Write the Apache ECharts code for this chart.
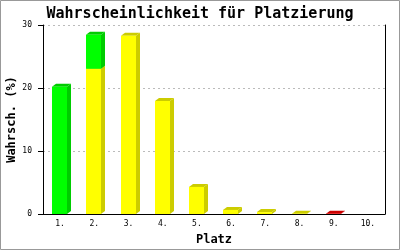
<!DOCTYPE html>
<html><head><meta charset="utf-8">
<script src="https://cdn.jsdelivr.net/npm/echarts@6/dist/echarts.min.js"></script>
<style>html,body{margin:0;padding:0;background:#fff}#c{width:400px;height:250px}</style>
</head><body><div id="c"></div>
<script>
const categories = ['1.','2.','3.','4.','5.','6.','7.','8.','9.','10.'];
const yellowVals = [0, 23.05, 28.3, 17.95, 4.3, 0.65, 0.3, 0.05, 0, 0];
const greenVals  = [20.2, 5.4, 0, 0, 0, 0, 0, 0, 0, 0];
const redVals    = [0, 0, 0, 0, 0, 0, 0, 0, 0.05, 0];
const yTicks = [0, 10, 20, 30];

const order = [
  {vals: yellowVals, front:'#ffff00', dark:'#cccc00'},
  {vals: greenVals, front:'#00ff00', dark:'#00cc00'},
  {vals: redVals, front:'#ff0000', dark:'#cc0000'}
];
const base = categories.map(()=>0);
const seriesList = order.map(s => {
  const data = s.vals.map((v,i) => { const b = base[i]; base[i] += v; return [i, b, b+v]; });
  return {
    type:'custom',
    data: data,
    encode: {x:0, y:[1,2]},
    renderItem: function(params, api){
      const idx = api.value(0), b = api.value(1), t = api.value(2);
      if (t <= b) return;
      const p0 = api.coord([idx, b]), p1 = api.coord([idx, t]);
      const bw = Math.round(api.size([1,0])[0]*0.44);
      const dx = 4, dy = 3;
      const x0 = Math.round(p0[0] - bw/2 - 0.5), x1 = x0 + bw;
      const yb = p0[1], yt = p1[1];
      return {type:'group', children:[
        {type:'polygon', shape:{points:[[x1,yt],[x1+dx,yt-dy],[x1+dx,yb-dy],[x1,yb]]}, style:{fill:s.dark}},
        {type:'polygon', shape:{points:[[x0,yt],[x0+dx,yt-dy],[x1+dx,yt-dy],[x1,yt]]}, style:{fill:s.dark}},
        {type:'rect', shape:{x:x0, y:yt, width:bw, height:yb-yt}, style:{fill:s.front}}
      ]};
    }
  };
});

const chart = echarts.init(document.getElementById('c'), null, {renderer:'canvas'});
chart.setOption({
  animation:false,
  backgroundColor:'#fff',
  title:{text:'Wahrscheinlichkeit für Platzierung', left:'center', top:2,
    textStyle:{fontFamily:'DejaVu Sans Mono', fontWeight:'bold', fontSize:15, color:'#000'}},
  grid:{left:43, right:15, top:25, bottom:36, containLabel:false, outerBoundsMode:'none'},
  xAxis:{type:'category', data:categories, name:'Platz', nameLocation:'middle', nameGap:20, nameMoveOverlap:false,
    nameTextStyle:{fontFamily:'DejaVu Sans Mono', fontWeight:'bold', fontSize:12, color:'#000'},
    axisLine:{lineStyle:{color:'#000', width:1}}, axisTick:{show:false},
    axisLabel:{fontFamily:'DejaVu Sans Mono', fontSize:8, color:'#000', margin:6}},
  yAxis:[{type:'value', min:0, max:30, interval:10, name:'Wahrsch. (%)', nameLocation:'middle', nameGap:25, nameMoveOverlap:false,
    nameTextStyle:{fontFamily:'DejaVu Sans Mono', fontWeight:'bold', fontSize:12, color:'#000'},
    axisLine:{show:true, lineStyle:{color:'#000', width:1}},
    axisTick:{show:true, length:5, lineStyle:{color:'#000'}},
    axisLabel:{fontFamily:'DejaVu Sans Mono', fontSize:8, color:'#000', margin:11,
      formatter: v => yTicks.includes(v) ? String(v) : ''},
    splitLine:{show:true, lineStyle:{color:'#bbbbbb', type:[2,3]}}},
    {type:'value', min:0, max:30, interval:10, position:'right',
     axisLine:{show:true, lineStyle:{color:'#000'}}, axisTick:{show:false}, axisLabel:{show:false}, splitLine:{show:false}}],
  series: seriesList,
  graphic:[{type:'rect', shape:{x:0.5,y:0.5,width:399,height:249}, style:{fill:'none', stroke:'#999', lineWidth:1}, silent:true}]
});
</script></body></html>
